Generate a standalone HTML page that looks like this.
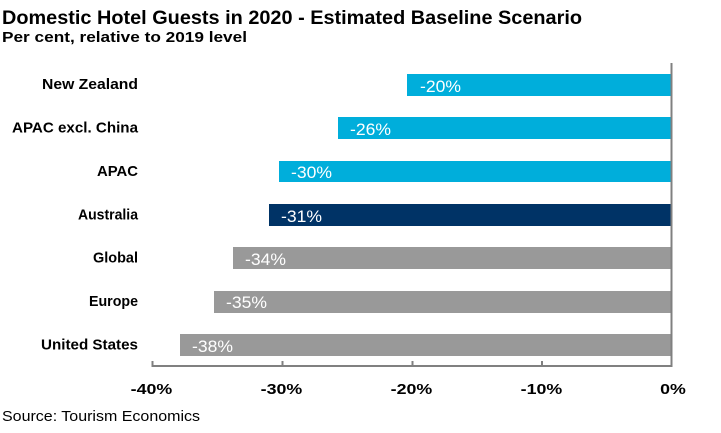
<!DOCTYPE html>
<html>
<head>
<meta charset="utf-8">
<style>
  html, body { margin: 0; padding: 0; background: #ffffff; }
  svg { display: block; }
  text { font-family: "Liberation Sans", Arial, sans-serif; }
</style>
</head>
<body>
<svg width="721" height="433" viewBox="0 0 721 433" xmlns="http://www.w3.org/2000/svg">
  <rect x="0" y="0" width="721" height="433" fill="#ffffff"/>

  <!-- Titles -->
  <text x="2" y="24" font-size="19" font-weight="bold" fill="#000" textLength="580" lengthAdjust="spacingAndGlyphs">Domestic Hotel Guests in 2020 - Estimated Baseline Scenario</text>
  <text x="2" y="42" font-size="15" font-weight="bold" fill="#000" textLength="245" lengthAdjust="spacingAndGlyphs">Per cent, relative to 2019 level</text>

  <!-- Bars -->
  <rect x="407" y="74" width="264" height="22" fill="#00AEDB"/>
  <rect x="338" y="117" width="333" height="22" fill="#00AEDB"/>
  <rect x="279" y="161" width="392" height="21" fill="#00AEDB"/>
  <rect x="269" y="204" width="402" height="22" fill="#003366"/>
  <rect x="233" y="247" width="438" height="22" fill="#999999"/>
  <rect x="214" y="291" width="457" height="22" fill="#999999"/>
  <rect x="180" y="334" width="491" height="22" fill="#999999"/>

  <!-- Value labels -->
  <g font-size="17" fill="#ffffff">
    <text x="420" y="92" textLength="41" lengthAdjust="spacingAndGlyphs">-20%</text>
    <text x="350" y="135" textLength="41" lengthAdjust="spacingAndGlyphs">-26%</text>
    <text x="291" y="178" textLength="41" lengthAdjust="spacingAndGlyphs">-30%</text>
    <text x="281" y="222" textLength="41" lengthAdjust="spacingAndGlyphs">-31%</text>
    <text x="245" y="265" textLength="41" lengthAdjust="spacingAndGlyphs">-34%</text>
    <text x="226" y="308" textLength="41" lengthAdjust="spacingAndGlyphs">-35%</text>
    <text x="192" y="352" textLength="41" lengthAdjust="spacingAndGlyphs">-38%</text>
  </g>

  <!-- Category labels -->
  <g font-size="15" font-weight="bold" fill="#000" text-anchor="end">
    <text x="138" y="89" textLength="96" lengthAdjust="spacingAndGlyphs">New Zealand</text>
    <text x="138" y="132.5" textLength="126" lengthAdjust="spacingAndGlyphs">APAC excl. China</text>
    <text x="138" y="176" textLength="41" lengthAdjust="spacingAndGlyphs">APAC</text>
    <text x="138" y="219.5" textLength="60" lengthAdjust="spacingAndGlyphs">Australia</text>
    <text x="138" y="262.5" textLength="45" lengthAdjust="spacingAndGlyphs">Global</text>
    <text x="138" y="306" textLength="49" lengthAdjust="spacingAndGlyphs">Europe</text>
    <text x="138" y="349.5" textLength="97" lengthAdjust="spacingAndGlyphs">United States</text>
  </g>

  <!-- Axes -->
  <g stroke="#808080" stroke-width="2" fill="none">
    <line x1="671.5" y1="63" x2="671.5" y2="367"/>
    <line x1="151.5" y1="366" x2="672.5" y2="366"/>
    <line x1="152.5" y1="361" x2="152.5" y2="366"/>
    <line x1="282.5" y1="361" x2="282.5" y2="366"/>
    <line x1="412.5" y1="361" x2="412.5" y2="366"/>
    <line x1="542" y1="361" x2="542" y2="366"/>
  </g>

  <!-- X tick labels -->
  <g font-size="15" font-weight="bold" fill="#000" text-anchor="middle">
    <text x="151.5" y="394" textLength="41.6" lengthAdjust="spacingAndGlyphs">-40%</text>
    <text x="281.5" y="394" textLength="41.6" lengthAdjust="spacingAndGlyphs">-30%</text>
    <text x="411.5" y="394" textLength="41.6" lengthAdjust="spacingAndGlyphs">-20%</text>
    <text x="541.5" y="394" textLength="41.6" lengthAdjust="spacingAndGlyphs">-10%</text>
    <text x="673" y="394" textLength="25.7" lengthAdjust="spacingAndGlyphs">0%</text>
  </g>

  <!-- Source -->
  <text x="2" y="421" font-size="15" fill="#000" textLength="198" lengthAdjust="spacingAndGlyphs">Source: Tourism Economics</text>
</svg>
</body>
</html>
